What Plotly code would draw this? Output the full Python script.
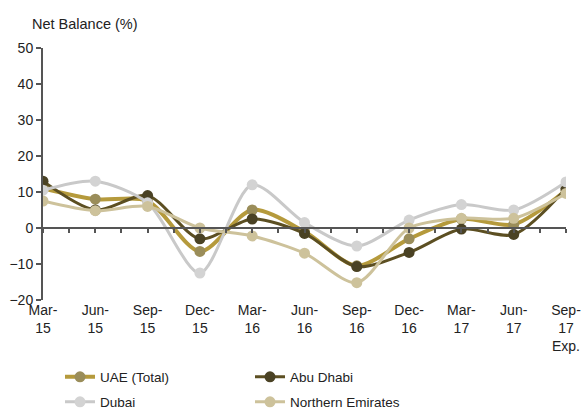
import plotly.graph_objects as go

quarters = ["Mar-<br>15", "Jun-<br>15", "Sep-<br>15", "Dec-<br>15", "Mar-<br>16", "Jun-<br>16",
            "Sep-<br>16", "Dec-<br>16", "Mar-<br>17", "Jun-<br>17", "Sep-<br>17<br>Exp."]

uae_total = [11, 8, 7.5, -6.5, 5, -1, -10.5, -3, 2.5, 1, 10.5]
abu_dhabi = [13, 5, 9, -3, 2.5, -1.5, -10.7, -6.8, -0.3, -1.8, 11]
dubai = [10.5, 13, 7, -12.5, 12, 1.5, -5, 2.2, 6.5, 5, 12.8]
northern = [7.5, 4.8, 6, 0, -2.2, -7, -15.2, 0, 2.7, 2.7, 9.6]

series = [
    ("UAE (Total)", uae_total, "#b59a3c", "#9a8d5a", 4, "legend"),
    ("Abu Dhabi", abu_dhabi, "#5c4f22", "#4a4224", 3, "legend"),
    ("Dubai", dubai, "#c9c9c9", "#d3d3d3", 3, "legend2"),
    ("Northern Emirates", northern, "#cdc29b", "#cdc29b", 3, "legend2"),
]

fig = go.Figure()
for name, vals, lc, mc, lw, leg in series:
    fig.add_trace(go.Scatter(
        x=quarters, y=vals, name=name, mode="lines+markers",
        line=dict(color=lc, width=lw, shape="spline", smoothing=0.8),
        marker=dict(color=mc, size=11),
        legend=leg,
    ))

# invisible helper trace so the zero-line axis gets drawn
fig.add_trace(go.Scatter(x=[0, 10], y=[0, 0], xaxis="x2", mode="lines",
                         line=dict(width=0), showlegend=False, hoverinfo="skip"))

axis_col = "#555555"
leg_common = dict(orientation="h", xref="container", yref="container", xanchor="left",
                  yanchor="middle", entrywidth=145, font=dict(size=13.5),
                  bgcolor="rgba(0,0,0,0)")
fig.update_layout(
    width=582, height=412,
    margin=dict(l=43, r=16, t=48, b=112, autoexpand=False),
    plot_bgcolor="white", paper_bgcolor="white",
    font=dict(family="Liberation Sans, Arial, sans-serif", size=14, color="#222222"),
    xaxis=dict(type="category", range=[0, 10], showline=False, showgrid=False,
               ticks="", tickfont=dict(size=14), zeroline=False, automargin=False),
    xaxis2=dict(overlaying="x", anchor="free", position=20 / 70, range=[0, 10],
                dtick=0.5, showline=True, linecolor=axis_col, linewidth=2,
                ticks="outside", ticklen=4, tickwidth=1.5, tickcolor=axis_col,
                showticklabels=False, showgrid=False, zeroline=False),
    yaxis=dict(range=[-20, 50], dtick=10, showline=True, linecolor=axis_col, linewidth=2,
               ticks="outside", ticklen=5, tickwidth=1.5, tickcolor=axis_col,
               showgrid=False, zeroline=False, tickfont=dict(size=14), automargin=False),
    legend=dict(x=60 / 582, y=1 - 377 / 412, **leg_common),
    legend2=dict(x=60 / 582, y=1 - 402 / 412, **leg_common),
    annotations=[dict(text="Net Balance (%)", xref="paper", yref="paper",
                      x=-13 / 523, y=1 + 24 / 252, xanchor="left", yanchor="middle",
                      showarrow=False, font=dict(size=14.5))],
    showlegend=True,
)

fig.write_html("out.html", config={"displayModeBar": False},
               post_script="document.body.style.margin='0';")
